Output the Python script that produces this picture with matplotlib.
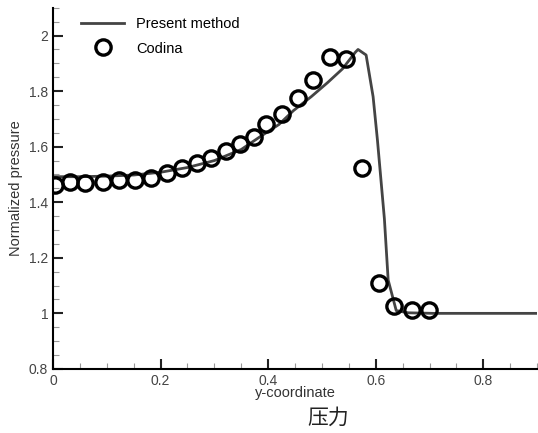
import numpy as np
import matplotlib.pyplot as plt
from matplotlib.ticker import MultipleLocator, FormatStrFormatter

# Codina reference data
codina_x = [0.004, 0.032, 0.060, 0.093, 0.123, 0.153, 0.182, 0.212, 0.240, 0.268,
            0.294, 0.322, 0.348, 0.374, 0.396, 0.426, 0.456, 0.484, 0.514, 0.545,
            0.575, 0.606, 0.634, 0.668, 0.698]
codina_y = [1.463, 1.474, 1.470, 1.474, 1.480, 1.480, 1.488, 1.505, 1.522, 1.540,
            1.560, 1.585, 1.610, 1.635, 1.680, 1.718, 1.775, 1.840, 1.923, 1.916,
            1.524, 1.108, 1.025, 1.011, 1.011]

# present method curve
line_x = [0.0, 0.05, 0.10, 0.15, 0.20, 0.25, 0.30, 0.35, 0.385, 0.42, 0.447, 0.48,
          0.51, 0.538, 0.562, 0.567, 0.582, 0.595, 0.603, 0.616, 0.623, 0.638,
          0.66, 0.707, 0.8, 0.9]
line_y = [1.492, 1.492, 1.494, 1.498, 1.508, 1.525, 1.550, 1.590, 1.636, 1.680,
          1.730, 1.780, 1.830, 1.880, 1.940, 1.950, 1.930, 1.780, 1.625, 1.340,
          1.120, 1.010, 1.002, 1.000, 1.000, 1.000]

plt.rcParams['font.family'] = ['Liberation Sans', 'DejaVu Sans']

fig = plt.figure(figsize=(5.38, 4.33), dpi=100)
ax = fig.add_axes([0.0985, 0.148, 0.9, 0.834])

ax.plot(line_x, line_y, color='#444444', lw=2, label='Present method')
ax.plot(codina_x, codina_y, 'o', mfc='none', mec='black', mew=2.4, ms=11,
        label='Codina')

ax.set_xlim(0, 0.9)
ax.set_ylim(0.8, 2.1)
ax.xaxis.set_major_locator(MultipleLocator(0.2))
ax.xaxis.set_minor_locator(MultipleLocator(0.05))
ax.yaxis.set_major_locator(MultipleLocator(0.2))
ax.yaxis.set_minor_locator(MultipleLocator(0.05))
ax.xaxis.set_major_formatter(FormatStrFormatter('%g'))
ax.yaxis.set_major_formatter(FormatStrFormatter('%g'))
ax.tick_params(which='both', direction='in', colors='#222', labelcolor='#444',
               labelsize=10)
ax.tick_params(which='major', length=7, width=1.5)
ax.tick_params(which='minor', length=4, width=0.8, color='#999')
ax.spines['top'].set_visible(False)
ax.spines['right'].set_visible(False)
ax.spines['left'].set_linewidth(1.5)
ax.spines['bottom'].set_linewidth(1.5)

ax.set_xlabel('y-coordinate', fontsize=10.5, color='#333', labelpad=-1)
ax.set_ylabel('Normalized pressure', fontsize=10.5, color='#333', labelpad=4)

ax.legend(loc='upper left', bbox_to_anchor=(0.03, 1.01), frameon=False,
          fontsize=10.5, handlelength=3, handletextpad=0.8, labelspacing=0.7)

fig.text(0.61, 0.035, '压力', fontsize=15, ha='center', va='center',
         family=['Noto Sans CJK SC', 'DejaVu Sans'], color='#222')

fig.savefig('out.png', dpi=100)
